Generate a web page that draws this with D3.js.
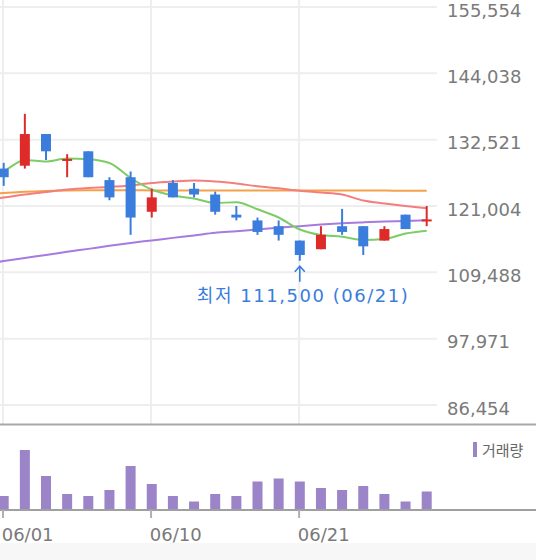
<!DOCTYPE html>
<html><head><meta charset="utf-8">
<script src="https://cdn.jsdelivr.net/npm/d3@7"></script>
<style>
html,body{margin:0;padding:0;background:#fff;}
svg{display:block;}
text{font-family:"DejaVu Sans","Noto Sans CJK KR",sans-serif;}
</style></head>
<body>
<svg id="c" width="536" height="560"></svg>
<script>
// ---- data ----
const prevDate = "05/31";
const dates = ["06/01","06/02","06/03","06/04","06/07","06/08","06/09","06/10","06/11","06/14","06/15","06/16","06/17","06/18","06/21","06/22","06/23","06/24","06/25","06/28","06/29"];
const opens  = [127500,128000,133500,129000,130500,125500,126000,120000,125000,124000,123000,119500,118500,117500,115000,113500,117500,117500,115000,119500,118500];
const highs  = [128500,137000,133500,130000,130500,126000,127000,124000,125500,125000,123500,121000,119000,118500,115000,117500,120500,117500,117500,119500,121000];
const lows   = [124500,127500,129000,126000,126000,122000,116000,119000,122500,122500,119500,118500,116000,115000,111500,113500,116000,112500,115000,117000,117500];
const closes = [126000,133500,130500,129000,126000,122500,119000,122500,122500,123000,120000,119000,116500,116000,112500,116000,116500,114000,117000,117000,118500];
const volumes = [280,1200,680,320,280,400,880,520,280,170,320,280,570,630,570,440,400,480,320,170,370]; // thousands
// moving averages (first value belongs to prevDate)
const ma5   = [126210,127080,128990,128730,129250,129110,128470,125870,123870,122830,122310,121530,121650,120430,119010,116920,115970,115670,115100,115280,116230,116720];
const ma20  = [122050,122480,123000,123440,123870,124130,124300,124560,125000,125260,125430,125260,124910,124430,124080,123660,123350,123000,121960,121440,121000,120600];
const ma60  = [123090,123260,123470,123610,123700,123730,123730,123730,123710,123700,123700,123700,123700,123700,123700,123700,123700,123680,123680,123680,123660,123660];
const ma120 = [110900,111440,111980,112500,113050,113560,114110,114600,115030,115470,115900,116350,116630,116940,117240,117500,117780,118000,118160,118300,118400,118520];
const priceTicks = [86454,97971,109488,121004,132521,144038,155554];
const dateTicks = ["06/01","06/10","06/21"];
const volumeLabel = "거래량";
const lowLabel = "최저";

// ---- drawing ----
const svg = d3.select("#c");
const W = 536, H = 560;
const plotRight = 437, plotBottom = 424, volTop = 424, volBottom = 510;
const allDates = [prevDate].concat(dates);
const x = d3.scalePoint().domain(allDates).range([-17.45, 426.7]);
const y = d3.scaleLinear().domain([86454, 155554]).range([405, 7]);
const yv = d3.scaleLinear().domain([0, 1720]).range([volBottom, volTop]);

const red = "#df2a2a", blue = "#3a7ddc";

svg.append("rect").attr("x",0).attr("y",543).attr("width",W).attr("height",H-543).attr("fill","#f7f7f7");

svg.append("defs").append("clipPath").attr("id","clip")
  .append("rect").attr("x",0).attr("y",0).attr("width",plotRight).attr("height",plotBottom);

// grid
const grid = svg.append("g");
grid.selectAll(".hg").data(priceTicks).enter().append("line")
  .attr("x1",0).attr("x2",plotRight).attr("y1",d=>y(d)).attr("y2",d=>y(d))
  .attr("stroke","#eeeeee").attr("stroke-width",2);
grid.selectAll(".vg").data(dateTicks).enter().append("line")
  .attr("x1",d=>x(d)-0.7).attr("x2",d=>x(d)-0.7).attr("y1",0).attr("y2",volTop)
  .attr("stroke","#eeeeee").attr("stroke-width",2);

// right axis
const yAxis = d3.axisRight(y).tickValues(priceTicks).tickFormat(d3.format(",")).tickSize(0).tickPadding(10);
const ya = svg.append("g").attr("transform",`translate(${plotRight},0)`).call(yAxis);
ya.select(".domain").remove();
ya.selectAll("text").attr("font-size",18).attr("fill","#7a7a7a").attr("dy","0.5em")
  .style("font-family",'"DejaVu Sans",sans-serif');

const plot = svg.append("g").attr("clip-path","url(#clip)");

// MA lines
const line = d3.line().x((d,i)=>x(allDates[i])).y(d=>y(d)).curve(d3.curveMonotoneX);
[[ma120,"#a77ae0"],[ma60,"#f5a04a"],[ma20,"#f27e7e"],[ma5,"#7dcc68"]].forEach(([arr,col])=>{
  plot.append("path").attr("d",line(arr)).attr("fill","none").attr("stroke",col).attr("stroke-width",2);
});

// candles
const cdl = plot.selectAll(".cd").data(dates).enter().append("g");
cdl.append("line")
  .attr("x1",d=>x(d)).attr("x2",d=>x(d))
  .attr("y1",(d,i)=>y(highs[i])).attr("y2",(d,i)=>y(lows[i]))
  .attr("stroke",(d,i)=>closes[i]>=opens[i]?red:blue).attr("stroke-width",2);
cdl.append("rect")
  .attr("x",d=>x(d)-5).attr("width",10)
  .attr("y",(d,i)=>Math.min(y(opens[i]),y(closes[i])) - (Math.abs(y(opens[i])-y(closes[i]))<2?1:0))
  .attr("height",(d,i)=>Math.max(2,Math.abs(y(opens[i])-y(closes[i]))))
  .attr("fill",(d,i)=>closes[i]>=opens[i]?red:blue);

// lowest annotation
const li = d3.minIndex(lows);
const lx = x(dates[li]), ly = y(lows[li]);
const ann = svg.append("g").attr("stroke","#3a7ddc").attr("fill","none").attr("stroke-width",1.6);
ann.append("line").attr("x1",lx).attr("x2",lx).attr("y1",ly+6).attr("y2",ly+21);
ann.append("path").attr("d",`M${lx-5},${ly+11}L${lx},${ly+5.5}L${lx+5},${ly+11}`);
svg.append("text").attr("x",lx+2.5).attr("y",ly+41).attr("text-anchor","middle")
  .attr("font-size",18).attr("fill","#3a7ddc")
  .attr("textLength",211).attr("lengthAdjust","spacing")
  .text(`${lowLabel} ${d3.format(",")(lows[li])} (${dates[li]})`);

// volume panel
svg.append("line").attr("x1",0).attr("x2",W).attr("y1",volTop+0.5).attr("y2",volTop+0.5)
  .attr("stroke","#a8a8a8").attr("stroke-width",2);
svg.selectAll(".vb").data(dates).enter().append("rect")
  .attr("x",d=>x(d)-5).attr("width",10)
  .attr("y",(d,i)=>yv(volumes[i])).attr("height",(d,i)=>volBottom-yv(volumes[i]))
  .attr("fill","#9b84c7");
svg.append("line").attr("x1",0).attr("x2",W).attr("y1",volBottom).attr("y2",volBottom)
  .attr("stroke","#a0a0a0").attr("stroke-width",2);

// x axis ticks and labels
const xt = svg.append("g");
xt.selectAll(".xt").data(dateTicks).enter().append("line")
  .attr("x1",d=>x(d)-0.7).attr("x2",d=>x(d)-0.7).attr("y1",volBottom).attr("y2",volBottom+8)
  .attr("stroke","#b0b0b0").attr("stroke-width",2);
xt.selectAll(".xl").data(dateTicks).enter().append("text")
  .attr("x",d=>x(d)-2).attr("y",541).attr("font-size",18).attr("fill","#7a7a7a")
  .text(d=>d);

// volume legend
svg.append("rect").attr("x",473).attr("y",442).attr("width",4).attr("height",15).attr("fill","#9b84c7");
svg.append("text").attr("x",482).attr("y",456).attr("font-size",15).attr("fill","#666")
  .style("font-family",'"Noto Sans CJK KR",sans-serif').text(volumeLabel);
</script>
</body></html>
